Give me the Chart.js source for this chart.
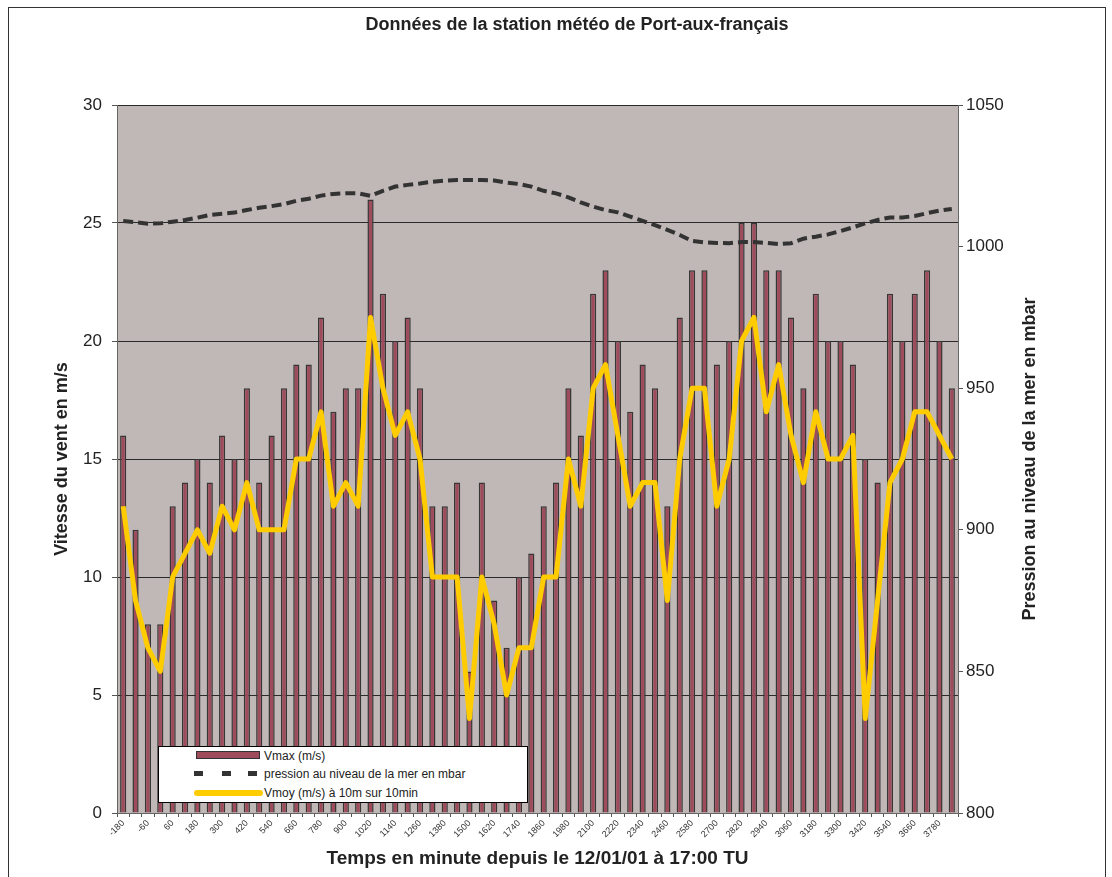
<!DOCTYPE html>
<html lang="fr">
<head>
    <meta charset="UTF-8">
    <title>Données de la station météo de Port-aux-français</title>
    <script src="https://cdn.jsdelivr.net/npm/chart.js"></script>
    <style>
        body {
            margin: 0;
            background-color: #ffffff;
            font-family: 'Liberation Sans', Arial, sans-serif;
        }
        #frame {
            position: absolute;
            left: 8px;
            top: 7px;
            width: 1096px;
            height: 880px;
            border: 1px solid #333;
        }
        #wrap {
            position: absolute;
            left: 0;
            top: 0;
            width: 1112px;
            height: 877px;
        }
        #legend {
            position: absolute;
            left: 158px;
            top: 746px;
            width: 368px;
            height: 55px;
            background: #fff;
            border: 1px solid #000;
            font-size: 12px;
            color: #222;
        }
        #legend .txt {
            position: absolute;
            left: 105px;
            line-height: 14px;
            white-space: nowrap;
        }
        .sw { position: absolute; }
    </style>
</head>
<body>
    <div id="frame"></div>
    <div id="wrap">
        <canvas id="meteoChart"></canvas>
    </div>
    <div id="legend">
        <div class="sw" style="left:37px; top:4px; width:62px; height:6px; background:#9e4b5b; border:1.5px solid #333;"></div>
        <div class="txt" style="top:2px;">Vmax (m/s)</div>
        <div class="sw" style="left:35px; top:24px; width:9px; height:5px; background:#333;"></div>
        <div class="sw" style="left:63px; top:24px; width:9px; height:5px; background:#333;"></div>
        <div class="sw" style="left:89px; top:24px; width:9px; height:5px; background:#333;"></div>
        <div class="txt" style="top:20px;">pression au niveau de la mer en mbar</div>
        <div class="sw" style="left:35px; top:43px; width:69px; height:6px; background:#ffcc00; border-radius:3px;"></div>
        <div class="txt" style="top:39px;">Vmoy (m/s) à 10m sur 10min</div>
    </div>

    <script>
        // temps en minutes (une categorie toutes les 60 min)
        const categories = [-180, -120, -60, 0, 60, 120, 180, 240, 300, 360, 420, 480, 540, 600, 660, 720, 780,
            840, 900, 960, 1020, 1080, 1140, 1200, 1260, 1320, 1380, 1440, 1500, 1560, 1620, 1680, 1740, 1800,
            1860, 1920, 1980, 2040, 2100, 2160, 2220, 2280, 2340, 2400, 2460, 2520, 2580, 2640, 2700, 2760, 2820,
            2880, 2940, 3000, 3060, 3120, 3180, 3240, 3300, 3360, 3420, 3480, 3540, 3600, 3660, 3720, 3780, 3840];

        // Vmax (m/s)
        const vmax = [16, 12, 8, 8, 13, 14, 15, 14, 16, 15, 18, 14, 16, 18, 19, 19, 21,
            17, 18, 18, 26, 22, 20, 21, 18, 13, 13, 14, 6, 14, 9, 7, 10, 11,
            13, 14, 18, 16, 22, 23, 20, 17, 19, 18, 13, 21, 23, 23, 19, 20, 25,
            25, 23, 23, 21, 18, 22, 20, 20, 19, 15, 14, 22, 20, 22, 23, 20, 18];

        // Vmoy (m/s) a 10m sur 10min
        const vmoy = [13, 9, 7, 6, 10, 11, 12, 11, 13, 12, 14, 12, 12, 12, 15, 15, 17,
            13, 14, 13, 21, 18, 16, 17, 15, 10, 10, 10, 4, 10, 8, 5, 7, 7,
            10, 10, 15, 13, 18, 19, 16, 13, 14, 14, 9, 15, 18, 18, 13, 15, 20,
            21, 17, 19, 16, 14, 17, 15, 15, 16, 4, 9, 14, 15, 17, 17, 16, 15];

        // pression au niveau de la mer (mbar)
        const pression = [1009.0, 1008.6, 1008.1, 1008.2, 1008.8, 1009.4, 1010.2, 1011.2, 1011.6, 1012.0, 1012.9, 1013.7, 1014.3, 1015.0, 1016.2, 1016.9, 1018.0,
            1018.6, 1018.8, 1018.8, 1017.9, 1019.7, 1021.2, 1021.8, 1022.3, 1022.9, 1023.3, 1023.5, 1023.5, 1023.5, 1023.3, 1022.6, 1022.1, 1021.2,
            1019.7, 1018.8, 1017.4, 1015.6, 1014.1, 1012.9, 1012.1, 1010.6, 1009.1, 1007.6, 1005.9, 1004.1, 1002.0, 1001.5, 1001.3, 1001.2, 1001.6,
            1001.6, 1001.3, 1000.9, 1001.2, 1002.8, 1003.5, 1004.3, 1005.5, 1006.8, 1008.2, 1009.4, 1010.3, 1010.3, 1010.8, 1011.8, 1012.7, 1013.3];

        // graduations des axes
        const ventTicks = [0, 5, 10, 15, 20, 25, 30];
        const pressionTicks = [800, 850, 900, 950, 1000, 1050];

        const rightTitle = 'Pression au niveau de la mer en mbar';

        Chart.defaults.font.family = "'Liberation Sans', Arial, sans-serif";
        Chart.defaults.color = '#222';

        // fond gris de la zone de trace
        const plotBg = {
            id: 'plotBg',
            beforeDraw(chart) {
                const { ctx, chartArea: a } = chart;
                ctx.save();
                ctx.fillStyle = '#c0b8b6';
                ctx.fillRect(a.left, a.top, a.right - a.left, a.bottom - a.top);
                ctx.restore();
            }
        };

        // titre de l'axe de droite, lu de bas en haut comme dans Excel
        const rightAxisTitle = {
            id: 'rightAxisTitle',
            afterDraw(chart) {
                const { ctx, chartArea: a } = chart;
                ctx.save();
                ctx.translate(1030, (a.top + a.bottom) / 2);
                ctx.rotate(-Math.PI / 2);
                ctx.font = "bold 18px 'Liberation Sans', Arial, sans-serif";
                ctx.fillStyle = '#222';
                ctx.textAlign = 'center';
                ctx.textBaseline = 'middle';
                ctx.fillText(rightTitle, 0, 0);
                ctx.restore();
            }
        };

        const ctx = document.getElementById('meteoChart').getContext('2d');
        new Chart(ctx, {
            type: 'bar',
            data: {
                labels: categories,
                datasets: [{
                    type: 'line',
                    label: 'Vmoy (m/s) à 10m sur 10min',
                    data: vmoy,
                    yAxisID: 'y',
                    borderColor: '#ffcc00',
                    borderWidth: 5,
                    pointRadius: 0,
                    tension: 0,
                    borderJoinStyle: 'round',
                    order: 1
                }, {
                    type: 'line',
                    label: 'pression au niveau de la mer en mbar',
                    data: pression,
                    yAxisID: 'y2',
                    borderColor: '#333333',
                    borderWidth: 4,
                    borderDash: [10, 5],
                    pointRadius: 0,
                    tension: 0,
                    order: 2
                }, {
                    type: 'bar',
                    label: 'Vmax (m/s)',
                    data: vmax,
                    yAxisID: 'y',
                    backgroundColor: '#9e4b5b',
                    borderColor: '#363636',
                    borderWidth: 1.5,
                    barPercentage: 0.5,
                    categoryPercentage: 1.0,
                    order: 3
                }]
            },
            options: {
                responsive: true,
                maintainAspectRatio: false,
                animation: false,
                layout: { padding: { left: 42, right: 0, top: 0, bottom: 0 } },
                plugins: {
                    legend: { display: false },
                    tooltip: { enabled: false },
                    title: {
                        display: true,
                        text: 'Données de la station météo de Port-aux-français',
                        color: '#222',
                        font: { size: 18, weight: 'bold' },
                        padding: { top: 14, bottom: 69.4 }
                    }
                },
                scales: {
                    x: {
                        offset: true,
                        afterFit(scale) { scale.height = 64; },
                        grid: { offset: true, drawOnChartArea: false, tickLength: 4, color: '#555' },
                        border: { display: true, color: '#666' },
                        ticks: {
                            autoSkip: false,
                            maxRotation: 45,
                            minRotation: 45,
                            padding: 1,
                            font: { size: 9 },
                            color: '#333',
                            callback: (v, i) => (i % 2 === 0 ? categories[i] : '')
                        },
                        title: {
                            display: true,
                            text: 'Temps en minute depuis le 12/01/01 à 17:00 TU',
                            color: '#222',
                            font: { size: 19, weight: 'bold' },
                            padding: { top: 0, bottom: 7 }
                        }
                    },
                    y: {
                        position: 'left',
                        min: ventTicks[0],
                        max: ventTicks[ventTicks.length - 1],
                        afterFit(scale) { scale.width = 75; },
                        afterBuildTicks(scale) { scale.ticks = ventTicks.map(v => ({ value: v })); },
                        grid: { color: '#2a2a2a', lineWidth: 1, tickLength: 5, tickColor: '#555' },
                        border: { display: true, color: '#666' },
                        ticks: { padding: 10, font: { size: 17 }, color: '#222' },
                        title: {
                            display: true,
                            text: 'Vitesse du vent en m/s',
                            color: '#222',
                            font: { size: 18, weight: 'bold' },
                            padding: { top: 9, bottom: 0 }
                        }
                    },
                    y2: {
                        position: 'right',
                        min: pressionTicks[0],
                        max: pressionTicks[pressionTicks.length - 1],
                        afterFit(scale) { scale.width = 154; },
                        afterBuildTicks(scale) { scale.ticks = pressionTicks.map(v => ({ value: v })); },
                        grid: { drawOnChartArea: false, tickLength: 5, color: '#555' },
                        border: { display: true, color: '#666' },
                        ticks: {
                            padding: 3,
                            font: { size: 17 },
                            color: '#222',
                            callback: v => String(v)
                        },
                        title: { display: false }
                    }
                }
            },
            plugins: [plotBg, rightAxisTitle]
        });
    </script>
</body>
</html>
